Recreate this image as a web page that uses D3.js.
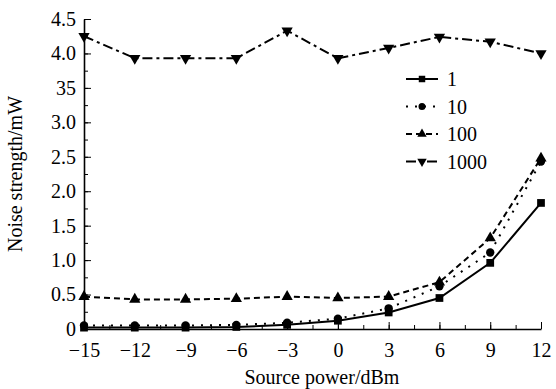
<!DOCTYPE html>
<html>
<head>
<meta charset="utf-8">
<script src="https://cdn.jsdelivr.net/npm/d3@7"></script>
<style>
  body { margin: 0; background: #fff; }
  svg, svg text { font-family: "Liberation Serif", "Times New Roman", Tinos, "DejaVu Serif", serif; }
</style>
</head>
<body>
<div id="chart"></div>
<script>
// data
const powers = [-15, -12, -9, -6, -3, 0, 3, 6, 9, 12];
const series1 = [0.02, 0.02, 0.02, 0.03, 0.06, 0.12, 0.24, 0.45, 0.96, 1.83];
const series10 = [0.05, 0.05, 0.05, 0.06, 0.09, 0.15, 0.30, 0.62, 1.11, 2.43];
const series100 = [0.47, 0.43, 0.43, 0.44, 0.47, 0.45, 0.47, 0.68, 1.32, 2.48];
const series1000 = [4.25, 3.93, 3.93, 3.93, 4.33, 3.93, 4.08, 4.24, 4.17, 4.00];
const seriesNames = ['1', '10', '100', '1000'];
const yTicks = [0, 0.5, 1.0, 1.5, 2.0, 2.5, 3.0, 3.5, 4.0, 4.5];
const yTickLabels = ['0', '0.5', '1.0', '1.5', '2.0', '2.5', '3.0', '35', '4.0', '4.5'];
const xTicks = [-15, -12, -9, -6, -3, 0, 3, 6, 9, 12];

const width = 556, height = 389;
const margin = { top: 19, right: 15, bottom: 60, left: 84 };
const innerW = width - margin.left - margin.right;
const innerH = height - margin.top - margin.bottom;

const svg = d3.select('#chart').append('svg')
  .attr('width', width)
  .attr('height', height);

const g = svg.append('g')
  .attr('transform', `translate(${margin.left},${margin.top})`);

const x = d3.scaleLinear().domain([-15, 12]).range([0, innerW]);
const y = d3.scaleLinear().domain([0, 4.5]).range([innerH, 0]);

// minor ticks (inward)
g.append('g')
  .attr('transform', `translate(0,${innerH})`)
  .call(d3.axisBottom(x).tickValues(d3.range(-15, 12.01, 1.5)).tickSize(-4).tickFormat(''))
  .call(a => a.select('.domain').remove())
  .selectAll('line').attr('stroke', '#000').attr('stroke-width', 1);

g.append('g')
  .call(d3.axisLeft(y).tickValues(d3.range(0, 4.51, 0.25)).tickSize(-4).tickFormat(''))
  .call(a => a.select('.domain').remove())
  .selectAll('line').attr('stroke', '#000').attr('stroke-width', 1);

// major ticks + labels
const xAxis = g.append('g')
  .attr('transform', `translate(0,${innerH})`)
  .call(d3.axisBottom(x).tickValues(xTicks).tickSizeInner(-7).tickSizeOuter(0).tickPadding(14)
    .tickFormat(d => d < 0 ? '\u2212' + Math.abs(d) : String(d)));
xAxis.attr('font-family', null);
xAxis.select('.domain').attr('stroke', '#000').attr('stroke-width', 1.6);
xAxis.selectAll('line').attr('stroke', '#000').attr('stroke-width', 1);
xAxis.selectAll('text').attr('font-size', 20).attr('fill', '#000');

const yAxis = g.append('g')
  .call(d3.axisLeft(y).tickValues(yTicks).tickSizeInner(-7).tickSizeOuter(0).tickPadding(8)
    .tickFormat((d, i) => yTickLabels[i]));
yAxis.attr('font-family', null);
yAxis.select('.domain').attr('stroke', '#000').attr('stroke-width', 1.6);
yAxis.selectAll('line').attr('stroke', '#000').attr('stroke-width', 1);
yAxis.selectAll('text').attr('font-size', 20).attr('fill', '#000');

// axis titles
svg.append('text')
  .attr('x', margin.left + x(0) - 16)
  .attr('y', 384)
  .attr('text-anchor', 'middle')
  .attr('font-size', 20)
  .text('Source power/dBm');

svg.append('text')
  .attr('transform', `translate(22,${margin.top + innerH / 2}) rotate(-90)`)
  .attr('text-anchor', 'middle')
  .attr('font-size', 20)
  .text('Noise strength/mW');

const styles = [
  { values: series1, dash: null, symbol: d3.symbolSquare, size: 60, rot: 0 },
  { values: series10, dash: '2,7', symbol: d3.symbolCircle, size: 55, rot: 0 },
  { values: series100, dash: '6,4', symbol: d3.symbolTriangle, size: 55, rot: 0 },
  { values: series1000, dash: '10,4,3,4', symbol: d3.symbolTriangle, size: 55, rot: 180 }
];

const line = d3.line().x(d => x(d[0])).y(d => y(d[1]));

styles.forEach(s => {
  const pts = powers.map((p, i) => [p, s.values[i]]);
  g.append('path')
    .datum(pts)
    .attr('d', line)
    .attr('fill', 'none')
    .attr('stroke', '#000')
    .attr('stroke-width', 2)
    .attr('stroke-dasharray', s.dash);
  g.selectAll(null)
    .data(pts)
    .enter()
    .append('path')
    .attr('d', d3.symbol().type(s.symbol).size(s.size))
    .attr('transform', d => `translate(${x(d[0])},${y(d[1])}) rotate(${s.rot})`)
    .attr('fill', '#000');
});

// legend
const legend = svg.append('g').attr('transform', 'translate(406,79)');
styles.forEach((s, i) => {
  const row = legend.append('g').attr('transform', `translate(0,${i * 27.5})`);
  row.append('line')
    .attr('x1', 0).attr('x2', 32)
    .attr('stroke', '#000')
    .attr('stroke-width', 2)
    .attr('stroke-dasharray', s.dash);
  row.append('path')
    .attr('d', d3.symbol().type(s.symbol).size(s.size * 0.7))
    .attr('transform', `translate(16,0) rotate(${s.rot})`)
    .attr('fill', '#000');
  row.append('text')
    .attr('x', 41)
    .attr('y', 7)
    .attr('font-size', 20)
    .text(seriesNames[i]);
});
</script>
</body>
</html>
